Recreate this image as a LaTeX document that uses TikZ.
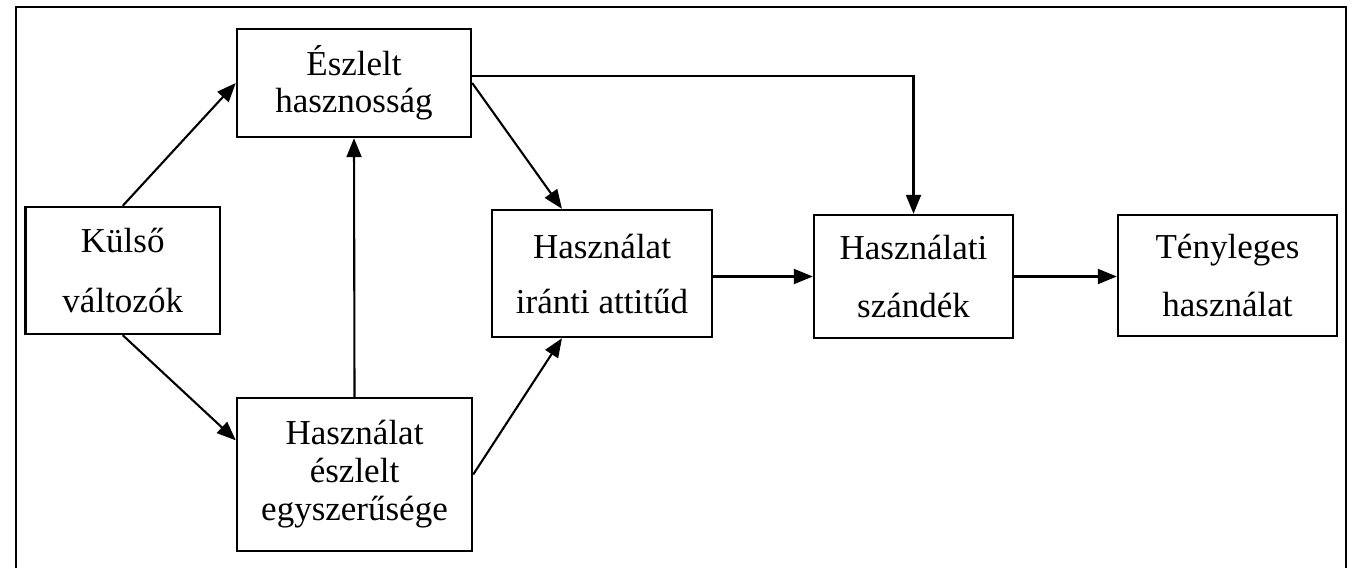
\documentclass[tikz,border=0pt]{standalone}
\usepackage{fontspec}
\setmainfont{Liberation Serif}
\usetikzlibrary{arrows.meta,calc}
\tikzset{
  box/.style={draw, line width=2.4pt, inner sep=0pt, align=center},
  conn/.style={line width=2.1pt, -{Triangle[length=19pt,width=15pt]}},
  frameline/.style={line width=1.6pt},
}
\begin{document}
\begin{tikzpicture}[x=1pt,y=-1pt]
\useasboundingbox (0,0) rectangle (1357,568);
\draw[frameline] (16,568) -- (16,7) -- (1346,7) -- (1346,568);
\node[box, minimum width=194.5pt, minimum height=127pt, font={\fontsize{35}{60}\selectfont}] (kul) at (122.75,270.5) {Külső\\változók};
\node[box, minimum width=234pt, minimum height=108pt, font={\fontsize{35}{37}\selectfont}] (esz) at (354,83) {Észlelt\\hasznosság};
\node[box, minimum width=235pt, minimum height=153pt, font={\fontsize{35}{38}\selectfont}] (egy) at (354.5,474.5) {Használat\\észlelt\\egyszerűsége};
\node[box, minimum width=220pt, minimum height=127pt, font={\fontsize{35}{55}\selectfont}] (att) at (602,273.5) {Használat\\iránti attitűd};
\node[box, minimum width=199pt, minimum height=123pt, font={\fontsize{35}{58}\selectfont}] (szan) at (913.5,276.5) {Használati\\szándék};
\node[box, minimum width=219pt, minimum height=121pt, font={\fontsize{35}{58}\selectfont}] (teny) at (1227.5,275.5) {Tényleges\\használat};
\coordinate (egyin) at ($(egy.north west)!0.28!(egy.south west)$);
\coordinate (atttop) at ($(att.north west)!0.32!(att.north east)$);
\coordinate (attbot) at ($(att.south west)!0.32!(att.south east)$);
\coordinate (eszout) at ($(esz.north east)!0.44!(esz.south east)$);
\draw[conn] (kul.north) -- (esz.west);
\draw[conn] (kul.south) -- (egyin);
\draw[conn] (egy.north) -- (esz.south);
\draw[conn] (esz.east) -- (atttop);
\draw[conn] (egy.east) -- (attbot);
\draw[conn] (eszout) -| (szan.north);
\draw[conn] (att.east |- szan.west) -- (szan.west);
\draw[conn] (szan.east) -- (szan.east -| teny.west);
\end{tikzpicture}
\end{document}
